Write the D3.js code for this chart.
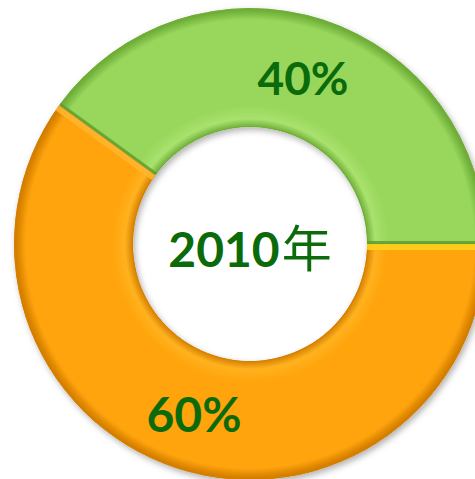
<!DOCTYPE html>
<html>
<head>
<meta charset="utf-8">
<script src="https://cdnjs.cloudflare.com/ajax/libs/d3/7.8.5/d3.min.js"></script>
<style>
  body { margin: 0; background: #fff; }
</style>
</head>
<body>
<div id="chart"></div>
<script>
var svgWidth = 475;
var svgHeight = 479;

// data
var categories = ["A", "B"];
var values = [40, 60];
var valueLabels = ["40%", "60%"];
var centerYear = "2010";
var centerUnit = "年";

var fills = ["#98d75c", "#ffa40b"];
var edges = ["#6fae38", "#d57f00"];
var lights = ["#a9e26e", "#ffb21f"];

var cx = 250, cy = 244;
var outerR = 236, innerR = 117;

var svg = d3.select("#chart")
  .append("svg")
  .attr("width", svgWidth)
  .attr("height", svgHeight);

var defs = svg.append("defs");

// soft shadow under the ring
var shadow = defs.append("filter")
  .attr("id", "shadow")
  .attr("x", "-10%").attr("y", "-10%")
  .attr("width", "120%").attr("height", "120%");
shadow.append("feDropShadow")
  .attr("dx", 2).attr("dy", 3)
  .attr("stdDeviation", 3)
  .attr("flood-color", "#000")
  .attr("flood-opacity", 0.3);

// radial gradients that darken the inner and outer rims
var f0 = innerR / outerR;
fills.forEach(function(c, i) {
  var g = defs.append("radialGradient")
    .attr("id", "grad" + i)
    .attr("gradientUnits", "userSpaceOnUse")
    .attr("cx", 0).attr("cy", 0).attr("r", outerR);
  g.append("stop").attr("offset", f0).attr("stop-color", edges[i]);
  g.append("stop").attr("offset", f0 + 0.035).attr("stop-color", lights[i]);
  g.append("stop").attr("offset", f0 + 0.09).attr("stop-color", c);
  g.append("stop").attr("offset", 0.95).attr("stop-color", c);
  g.append("stop").attr("offset", 0.99).attr("stop-color", edges[i]);
  g.append("stop").attr("offset", 1).attr("stop-color", edges[i]);
});

var chartGroup = svg.append("g")
  .attr("transform", `translate(${cx}, ${cy})`);

// green slice runs counter-clockwise from 3 o'clock
var start = Math.PI / 2 - 2 * Math.PI * values[0] / d3.sum(values);
var pie = d3.pie()
  .sort(null)
  .startAngle(start)
  .endAngle(start + 2 * Math.PI);

var arcs = pie(values);

var arc = d3.arc()
  .innerRadius(innerR)
  .outerRadius(outerR);

var ring = chartGroup.append("g").attr("filter", "url(#shadow)");

arcs.forEach(function(d, i) {
  defs.append("clipPath")
    .attr("id", "clip" + i)
    .append("path")
    .attr("d", arc(d));
});

var slices = ring.selectAll("g.slice")
  .data(arcs)
  .enter()
  .append("g")
  .attr("class", "slice")
  .attr("clip-path", (d, i) => `url(#clip${i})`);

slices.append("path")
  .attr("d", arc)
  .attr("fill", (d, i) => `url(#grad${i})`)
  .attr("stroke", (d, i) => edges[i])
  .attr("stroke-width", 1.4);

// bevel strips along the straight slice edges (light from above)
var toDeg = a => a * 180 / Math.PI - 90;
var startStrip = [{h: 3, c: "#5f9f2e"}, {h: 6, c: "#ffd31f"}];
var endStrip = [{h: 3, c: "#5f9f2e"}, {h: 6, c: "#ffb630"}];
slices.append("rect")
  .attr("transform", d => `rotate(${toDeg(d.startAngle)})`)
  .attr("x", innerR).attr("y", 0)
  .attr("width", outerR - innerR).attr("height", (d, i) => startStrip[i].h)
  .attr("fill", (d, i) => startStrip[i].c)
  .attr("opacity", 0.85);
slices.append("rect")
  .attr("transform", d => `rotate(${toDeg(d.endAngle)})`)
  .attr("x", innerR).attr("y", (d, i) => -endStrip[i].h)
  .attr("width", outerR - innerR).attr("height", (d, i) => endStrip[i].h)
  .attr("fill", (d, i) => endStrip[i].c)
  .attr("opacity", 0.85);

// percentage labels
var labelPos = [[53, -149], [-56, 188]];
chartGroup.selectAll("text.pct")
  .data(arcs)
  .enter()
  .append("text")
  .attr("class", "pct")
  .attr("x", (d, i) => labelPos[i][0])
  .attr("y", (d, i) => labelPos[i][1])
  .attr("text-anchor", "middle")
  .attr("font-family", "Lato, 'Open Sans', sans-serif")
  .attr("font-weight", "bold")
  .attr("font-size", (d, i) => i === 0 ? 46 : 48)
  .attr("fill", "#0b6b0b")
  .text((d, i) => valueLabels[i]);

// centre title
var title = chartGroup.append("text")
  .attr("x", 0)
  .attr("y", 23)
  .attr("text-anchor", "middle")
  .attr("fill", "#0b6b0b");
title.append("tspan")
  .attr("font-family", "Lato, 'Open Sans', sans-serif")
  .attr("font-weight", "bold")
  .attr("font-size", 48)
  .text(centerYear);
title.append("tspan")
  .attr("font-family", "'Noto Sans CJK SC', sans-serif")
  .attr("font-weight", "normal")
  .attr("font-size", 50)
  .attr("dx", 2)
  .text(centerUnit);
</script>
</body>
</html>
